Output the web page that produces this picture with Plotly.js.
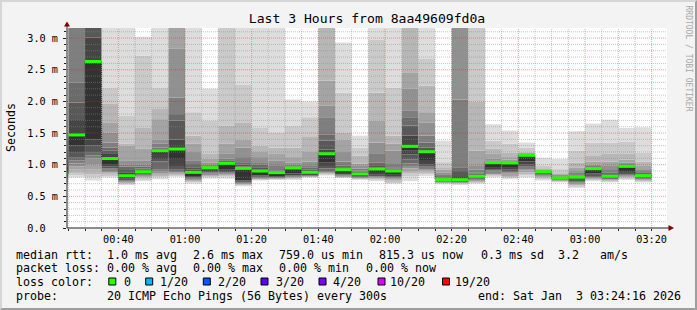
<!DOCTYPE html>
<html><head><meta charset="utf-8">
<script src="https://cdn.plot.ly/plotly-3.0.1.min.js"></script>
<style>
html,body{margin:0;padding:0;background:#f3f3f3;}
#wrap{position:relative;width:697px;height:310px;overflow:hidden;}
#chart{width:697px;height:310px;}
#frame{position:absolute;left:0;top:0;width:697px;height:310px;box-sizing:border-box;border-top:2px solid #d6d6d6;border-left:2px solid #d6d6d6;border-right:2px solid #9e9e9e;border-bottom:2px solid #9e9e9e;pointer-events:none;}
</style></head><body>
<div id="wrap"><div id="chart"></div><div id="frame"></div></div>
<script>
// 5-minute intervals (start times), Sat Jan 3 2026
const intervalStart = ["00:20","00:25","00:30","00:35","00:40","00:45","00:50","00:55","01:00","01:05","01:10","01:15","01:20","01:25","01:30","01:35","01:40","01:45","01:50","01:55","02:00","02:05","02:10","02:15","02:20","02:25","02:30","02:35","02:40","02:45","02:50","02:55","03:00","03:05","03:10","03:15"];
// median RTT per interval (ms)
const medianRtt = [0.87,1.47,2.63,1.097,0.826,0.89,1.22,1.247,0.88,0.953,1.02,0.942,0.90,0.874,0.948,0.88,1.174,0.921,0.853,0.932,0.90,1.29,1.205,0.763,0.763,0.816,1.032,1.027,1.148,0.89,0.79,0.805,0.937,0.816,0.974,0.826];
// 20 sorted ping RTTs per interval (ms)
const pings = [
 [0.68,0.72,0.75,0.78,0.80,0.82,0.83,0.84,0.85,0.86,0.87,0.90,0.93,0.97,1.02,1.08,1.15,1.25,1.40,1.70],
 [0.80,0.83,0.87,0.92,0.97,1.02,1.07,1.12,1.20,1.30,1.47,1.72,1.98,2.30,3.30,3.50,3.80,4.20,4.80,5.50],
 [0.75,0.80,0.85,0.92,1.00,1.10,1.15,1.20,1.30,1.40,2.63,3.01,3.30,3.50,3.70,3.90,4.10,4.40,4.80,5.40],
 [0.80,0.82,0.84,0.86,0.88,0.90,0.92,0.94,0.97,1.01,1.10,1.17,1.22,1.27,1.35,1.51,1.67,1.96,2.21,3.40],
 [0.68,0.69,0.70,0.71,0.72,0.73,0.74,0.75,0.76,0.78,0.83,0.88,0.93,0.97,1.00,1.07,1.30,1.33,1.77,3.40],
 [0.74,0.76,0.78,0.80,0.81,0.82,0.83,0.84,0.85,0.86,0.89,0.92,0.94,0.97,1.00,1.06,1.25,1.59,2.72,3.02],
 [0.77,0.80,0.82,0.84,0.86,0.89,0.93,1.05,1.09,1.17,1.22,1.23,1.25,1.27,1.33,1.40,1.72,1.88,2.21,3.40],
 [0.81,0.82,0.83,0.85,0.86,0.88,0.90,0.93,0.98,1.09,1.25,1.40,1.70,1.80,2.06,2.83,3.30,3.50,3.80,4.50],
 [0.70,0.72,0.73,0.74,0.75,0.76,0.77,0.78,0.80,0.82,0.88,0.92,0.96,1.01,1.06,1.20,1.33,1.46,1.83,3.30],
 [0.78,0.80,0.81,0.82,0.83,0.84,0.86,0.88,0.90,0.92,0.953,0.965,0.97,0.98,1.00,1.03,1.10,1.17,1.70,2.20],
 [0.78,0.81,0.82,0.83,0.84,0.85,0.86,0.88,0.90,0.93,1.02,1.03,1.04,1.06,1.10,1.17,1.33,1.62,3.30,3.60],
 [0.66,0.67,0.68,0.69,0.695,0.70,0.71,0.72,0.73,0.75,0.94,0.97,1.00,1.04,1.12,1.27,1.40,1.67,2.26,3.30],
 [0.75,0.76,0.765,0.77,0.775,0.78,0.79,0.80,0.81,0.83,0.90,0.93,0.96,1.00,1.04,1.12,1.20,1.30,1.59,3.30],
 [0.76,0.765,0.77,0.775,0.78,0.785,0.79,0.795,0.80,0.81,0.874,0.89,0.91,0.93,0.98,1.06,1.17,1.27,1.51,3.30],
 [0.76,0.77,0.78,0.79,0.795,0.80,0.81,0.82,0.83,0.86,0.948,0.96,0.97,0.98,1.00,1.03,1.12,1.27,1.61,2.03],
 [0.80,0.80,0.805,0.81,0.812,0.815,0.82,0.825,0.83,0.84,0.88,0.90,0.92,0.95,0.98,1.05,1.20,1.45,1.75,2.00],
 [0.83,0.84,0.85,0.86,0.87,0.88,0.90,0.94,0.98,1.04,1.174,1.24,1.38,1.48,1.75,1.93,2.33,3.30,3.50,3.80],
 [0.79,0.795,0.80,0.805,0.81,0.82,0.83,0.84,0.85,0.87,0.921,0.94,0.96,0.99,1.05,1.20,1.40,1.51,2.14,2.93],
 [0.76,0.77,0.775,0.78,0.785,0.79,0.795,0.80,0.81,0.82,0.853,0.87,0.89,0.91,0.94,0.98,1.02,1.14,1.27,1.46],
 [0.74,0.76,0.77,0.78,0.79,0.80,0.81,0.82,0.84,0.87,0.932,0.95,0.98,1.03,1.17,1.35,1.70,2.14,2.97,3.30],
 [0.70,0.71,0.73,0.75,0.77,0.78,0.79,0.80,0.81,0.84,0.90,0.92,0.94,0.96,1.01,1.22,1.33,1.46,2.22,3.30],
 [0.74,0.82,0.86,0.90,0.94,0.98,1.02,1.08,1.16,1.22,1.29,1.46,1.62,1.75,1.85,2.20,2.46,3.30,3.50,3.80],
 [0.82,0.85,0.87,0.89,0.91,0.93,0.95,0.97,1.00,1.06,1.205,1.23,1.27,1.35,1.46,1.67,1.83,2.25,2.67,3.30],
 [0.69,0.70,0.705,0.71,0.715,0.72,0.725,0.73,0.735,0.74,0.763,0.78,0.80,0.82,0.85,0.88,0.92,0.96,1.04,1.38],
 [0.68,0.69,0.70,0.705,0.71,0.715,0.72,0.725,0.73,0.74,0.763,0.82,0.90,0.96,2.03,3.30,3.50,3.80,4.20,5.00],
 [0.70,0.71,0.72,0.73,0.74,0.75,0.76,0.77,0.78,0.79,0.816,0.84,0.86,0.88,0.92,0.98,1.22,2.00,3.30,3.60],
 [0.80,0.82,0.83,0.84,0.85,0.87,0.89,0.91,0.93,0.95,1.032,1.04,1.045,1.05,1.07,1.10,1.17,1.25,1.38,1.64],
 [0.77,0.785,0.80,0.82,0.84,0.86,0.88,0.90,0.92,0.95,1.027,1.035,1.04,1.05,1.06,1.08,1.12,1.19,1.33,1.54],
 [0.80,0.83,0.85,0.88,0.91,0.93,0.95,0.97,1.00,1.05,1.148,1.15,1.152,1.155,1.16,1.17,1.19,1.21,1.27,1.35],
 [0.75,0.77,0.79,0.80,0.81,0.82,0.83,0.84,0.85,0.86,0.89,0.895,0.90,0.905,0.915,0.925,0.94,0.96,0.99,1.11],
 [0.72,0.73,0.735,0.74,0.745,0.75,0.755,0.76,0.765,0.77,0.79,0.80,0.805,0.81,0.82,0.84,0.86,0.88,0.93,1.09],
 [0.63,0.65,0.67,0.68,0.69,0.70,0.72,0.74,0.76,0.78,0.805,0.815,0.83,0.85,0.87,0.90,0.95,1.03,1.22,1.53],
 [0.74,0.75,0.76,0.77,0.78,0.79,0.80,0.82,0.84,0.86,0.937,0.945,0.95,0.96,0.98,1.00,1.05,1.15,1.35,1.65],
 [0.72,0.73,0.74,0.75,0.76,0.765,0.77,0.775,0.78,0.79,0.816,0.83,0.85,0.88,0.93,0.98,1.05,1.17,1.35,1.71],
 [0.76,0.775,0.79,0.80,0.81,0.82,0.83,0.85,0.87,0.90,0.974,0.98,0.985,0.995,1.01,1.03,1.08,1.18,1.36,1.58],
 [0.72,0.73,0.74,0.75,0.76,0.765,0.77,0.78,0.79,0.80,0.826,0.84,0.85,0.87,0.90,0.93,0.98,1.05,1.19,1.59]
];
const yTickVals = [0,0.5,1.0,1.5,2.0,2.5,3.0];
const yTickText = ["0.0\u00a0\u00a0","0.5 m","1.0 m","1.5 m","2.0 m","2.5 m","3.0 m"];
const lossLabels = ["0","1/20","2/20","3/20","4/20","10/20","19/20"];
const lossColors = ["#26ff00","#00b8ff","#0059ff","#5e00ff","#7e00ff","#dd00ff","#ff0000"];

const MONO = "DejaVu Sans Mono";
const DAY = Date.UTC(2026,0,3);
const STEP = 300000;
const toMs = s => DAY + (parseInt(s.slice(0,2))*60 + parseInt(s.slice(3,5)))*60000;
const starts = intervalStart.map(toMs);
const xStart = DAY + (24*60+36)*1000, xEnd = xStart + 3*3600*1000;
const Y_MAX = 200/63.3;

// smokeping gray scale per band
function bandGray(k){ // k = 1..19 (band between ping k and k+1)
  const i = k <= 10 ? k : 20 - k;
  const c = Math.floor(190/10*(10-i)) + 50;
  const h = c.toString(16).padStart(2,'0');
  return '#'+h+h+h;
}
const traces = [];
for (let k=1;k<=19;k++){
  traces.push({
    type:'bar', x:starts, base:pings.map(p=>p[k-1]), y:pings.map(p=>p[k]-p[k-1]),
    width:STEP, offset:0, marker:{color:bandGray(k), line:{width:0}},
    hoverinfo:'skip', showlegend:false
  });
}
// median step line (dark)
const stepX = starts.concat([starts[starts.length-1]+STEP]);
const stepY = medianRtt.concat([medianRtt[medianRtt.length-1]]);
traces.push({type:'scatter', mode:'lines', x:stepX, y:stepY, line:{shape:'hv', color:'#202020', width:1, dash:'1px,1px'}, hoverinfo:'skip', showlegend:false});
// green median segments
const gx=[], gy=[];
starts.forEach((s,i)=>{ gx.push(s, s+STEP, null); gy.push(medianRtt[i], medianRtt[i], null); });
traces.push({type:'scatter', mode:'lines', x:gx, y:gy, line:{color:lossColors[0], width:3}, hoverinfo:'skip', showlegend:false});

// grid on top (rrdtool style)
const shapes = [];
const minorC = 'rgba(140,140,140,0.5)', majorC = 'rgba(220,40,40,0.45)';
for (let t = toMs("00:25"); t < xEnd; t += STEP){
  const major = ((t-DAY)/60000) % 20 === 0;
  shapes.push({type:'line', xref:'x', yref:'y', x0:t, x1:t, y0:0, y1:Y_MAX, layer:'above', line:{color: major?majorC:minorC, width:1, dash:'1px,1px'}});
}
for (let j=1;j<=31;j++){
  const v = j/10; const major = j%5===0;
  shapes.push({type:'line', xref:'x', yref:'y', x0:xStart, x1:xEnd, y0:v, y1:v, layer:'above', line:{color: major?majorC:minorC, width:1, dash:'1px,1px'}});
}
const L=67, T=28, W=600, H=200;
const px = x => (x-L)/W, py = y => (T+H-y)/H;
// axes with arrows
shapes.push({type:'line', xref:'paper', yref:'paper', x0:px(67), x1:px(67), y0:py(228), y1:py(25), line:{color:'#202020', width:1}, layer:'above'});
shapes.push({type:'line', xref:'paper', yref:'paper', x0:px(67), x1:px(670), y0:py(228), y1:py(228), line:{color:'#202020', width:1}, layer:'above'});
shapes.push({type:'path', xref:'paper', yref:'paper', path:`M${px(67)},${py(21.5)} L${px(64)},${py(26.5)} L${px(70)},${py(26.5)} Z`, fillcolor:'#800000', line:{width:0}, layer:'above'});
shapes.push({type:'path', xref:'paper', yref:'paper', path:`M${px(674)},${py(228)} L${px(668.5)},${py(225)} L${px(668.5)},${py(231)} Z`, fillcolor:'#800000', line:{width:0}, layer:'above'});
// loss color boxes
const boxX = [112.3,149.2,206.8,264.5,322.5,381.5,446];
boxX.forEach((bx,i)=>{
  shapes.push({type:'rect', xref:'paper', yref:'paper', x0:px(bx-3.5), x1:px(bx+3.5), y0:py(285), y1:py(278), fillcolor:lossColors[i], line:{color:'#000', width:1}});
});

const ann = (text, x, y, size, extra) => Object.assign({text, xref:'paper', yref:'paper', x:px(x), y:py(y), xanchor:'left', yanchor:'middle', showarrow:false, borderpad:0, borderwidth:0, font:{family:MONO, size:size||11.63, color:'#000'}}, extra||{});
const annotations = [
  ann("median rtt:",16,254.5), ann("1.0 ms avg",107,254.5), ann("2.6 ms max",193,254.5), ann("759.0 us min",279,254.5),
  ann("815.3 us now",379,254.5), ann("0.3 ms sd",481,254.5), ann("3.2",558,254.5), ann("am/s",600,254.5),
  ann("packet loss:",16,268), ann("0.00 % avg",107,268), ann("0.00 % max",193,268), ann("0.00 % min",279,268), ann("0.00 % now",366,268),
  ann("loss color:",16,282),
  ann("probe:",16,296), ann("20 ICMP Echo Pings (56 Bytes) every 300s",107,296), ann("end: Sat Jan \u00a03 03:24:16 2026",478,296),
  ann("Seconds",11,128,11.63,{textangle:-90, xanchor:'center'}),
  ann("RRDTOOL / TOBI OETIKER",688,58.5,8,{textangle:90, xanchor:'center', font:{family:MONO,size:8,color:'#a8a8a8'}})
];
const lossTextX = [124,160,218,276,333,390,455];
lossLabels.forEach((t,i)=>annotations.push(ann(t,lossTextX[i],282)));

const layout = {
  width:697, height:310,
  margin:{l:L, r:697-L-W, t:T, b:310-T-H, pad:0},
  paper_bgcolor:'#f3f3f3', plot_bgcolor:'#ffffff',
  barmode:'overlay', showlegend:false,
  title:{text:'Last 3 Hours from 8aa49609fd0a', font:{family:MONO, size:13.1, color:'#000'}, x:0.5, xref:'paper', xanchor:'center', y:1-18.5/310, yref:'container', yanchor:'middle'},
  xaxis:{type:'date', range:[xStart,xEnd], showgrid:false, zeroline:false, showline:false,
    tickmode:'linear', tick0:DAY, dtick:1200000, tickformat:'%H:%M',
    ticks:'outside', ticklen:2, tickcolor:'#202020', tickfont:{family:MONO,size:10.18,color:'#000'},
    minor:{dtick:STEP, tick0:DAY, ticks:'outside', ticklen:2, tickcolor:'#202020', showgrid:false}},
  yaxis:{range:[0,Y_MAX], showgrid:false, zeroline:false, showline:false,
    tickmode:'array', tickvals:yTickVals, ticktext:yTickText,
    ticks:'outside', ticklen:3, tickcolor:'#202020', tickfont:{family:MONO,size:10.18,color:'#000'}, ticklabelstandoff:3,
    minor:{dtick:0.1, ticks:'outside', ticklen:2, tickcolor:'#202020', showgrid:false}},
  shapes, annotations
};
Plotly.newPlot('chart', traces, layout, {staticPlot:true, displayModeBar:false});
</script>
</body></html>
